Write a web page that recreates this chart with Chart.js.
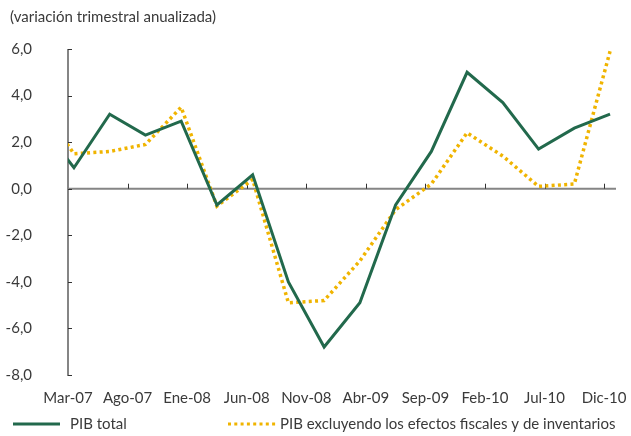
<!DOCTYPE html>
<html>
<head>
<meta charset="utf-8">
<script src="https://cdn.jsdelivr.net/npm/chart.js@4"></script>
<style>
  html, body { margin: 0; padding: 0; background: #fff; }
  #wrap { width: 631px; height: 436px; position: relative; }
</style>
</head>
<body>
<div id="wrap"><canvas id="chart" width="631" height="436"></canvas></div>
<script>
// quarterly data, Dic-06 is only the stub cut off at the left edge
const quarters = ['Dic-06', 'Mar-07', 'Jun-07', 'Sep-07', 'Dic-07', 'Mar-08', 'Jun-08', 'Sep-08', 'Dic-08',
    'Mar-09', 'Jun-09', 'Sep-09', 'Dic-09', 'Mar-10', 'Jun-10', 'Sep-10', 'Dic-10'];
const pibTotal = [2.9, 0.9, 3.2, 2.3, 2.9, -0.7, 0.6, -4.0, -6.8, -4.9, -0.7, 1.6, 5.0, 3.7, 1.7, 2.6, 3.2];
const pibExcluyendo = [3.7, 1.5, 1.6, 1.9, 3.5, -0.75, 0.4, -4.9, -4.8, -3.1, -0.9, 0.2, 2.4, 1.4, 0.1, 0.2, 5.9];
const xTickLabels = ['Mar-07', 'Ago-07', 'Ene-08', 'Jun-08', 'Nov-08', 'Abr-09', 'Sep-09', 'Feb-10', 'Jul-10', 'Dic-10'];
const yTicks = [6, 4, 2, 0, -2, -4, -6, -8];
const seriesNames = ['PIB total', 'PIB excluyendo los efectos fiscales y de inventarios'];
const subtitle = '(variación trimestral anualizada)';

const GREEN = '#22694c';
const GOLD = '#f0b400';
const AXIS = '#858585';
const TEXT = '#3a3a3a';
const FONT = 'Lato, "Open Sans", sans-serif';

// months counted from Mar-07, points sit in the middle of their month
const monthOf = i => 3 * (i - 1) + 0.5;
const tickMonths = xTickLabels.map((_, k) => 5 * k);
const toPoints = arr => arr.map((v, i) => ({ x: monthOf(i), y: v }));

const fmt = v => v.toFixed(1).replace('.', ',');

const axesPlugin = {
    id: 'axes',
    beforeDatasetsDraw(chart) {
        const { ctx, chartArea: a, scales: { x, y } } = chart;
        ctx.save();
        ctx.strokeStyle = AXIS;
        ctx.lineWidth = 2;
        ctx.beginPath();
        ctx.moveTo(a.left, y.getPixelForValue(6));
        ctx.lineTo(a.left, y.getPixelForValue(-8) + 1);
        const y0 = y.getPixelForValue(0);
        ctx.moveTo(a.left, y0);
        ctx.lineTo(a.right, y0);
        ctx.stroke();
        // small tick marks
        ctx.strokeStyle = '#333';
        ctx.lineWidth = 1;
        ctx.beginPath();
        yTicks.forEach(v => {
            const py = Math.round(y.getPixelForValue(v)) + 0.5;
            ctx.moveTo(a.left, py);
            ctx.lineTo(a.left + 4, py);
        });
        tickMonths.slice(1).forEach(m => {
            const px = Math.round(x.getPixelForValue(m)) + 0.5;
            ctx.moveTo(px, y0);
            ctx.lineTo(px, y0 - 5);
        });
        ctx.stroke();
        ctx.restore();
    },
    afterDraw(chart) {
        const { ctx } = chart;
        ctx.save();
        ctx.fillStyle = TEXT;
        ctx.font = '15px ' + FONT;
        ctx.textBaseline = 'middle';
        ctx.textAlign = 'left';
        ctx.fillText(subtitle, 10, 17);

        // legend
        const ly = 424;
        ctx.lineWidth = 3;
        ctx.strokeStyle = GREEN;
        ctx.beginPath();
        ctx.moveTo(13, ly);
        ctx.lineTo(60, ly);
        ctx.stroke();
        ctx.fillText(seriesNames[0], 70, ly);

        ctx.strokeStyle = GOLD;
        ctx.setLineDash([3, 3.3]);
        ctx.beginPath();
        ctx.moveTo(228, ly);
        ctx.lineTo(276, ly);
        ctx.stroke();
        ctx.setLineDash([]);
        ctx.fillText(seriesNames[1], 280, ly);
        ctx.restore();
    }
};

new Chart(document.getElementById('chart'), {
    type: 'line',
    data: {
        datasets: [{
            label: seriesNames[0],
            data: toPoints(pibTotal),
            borderColor: GREEN,
            borderWidth: 3,
            pointRadius: 0,
            tension: 0,
            clip: { left: 0, top: 5, right: 5, bottom: 5 }
        }, {
            label: seriesNames[1],
            data: toPoints(pibExcluyendo),
            borderColor: GOLD,
            borderWidth: 3.5,
            borderDash: [3, 3.3],
            borderCapStyle: 'butt',
            pointRadius: 0,
            tension: 0,
            clip: { left: 0, top: 5, right: 5, bottom: 5 }
        }]
    },
    options: {
        responsive: false,
        animation: false,
        events: [],
        layout: { padding: { left: 0, top: 49, right: 15, bottom: 21 } },
        plugins: {
            legend: { display: false },
            tooltip: { enabled: false }
        },
        scales: {
            x: {
                type: 'linear',
                min: 0,
                max: 46,
                grid: { display: false },
                border: { display: false },
                afterBuildTicks: s => { s.ticks = tickMonths.map(v => ({ value: v })); },
                afterFit: s => { s.height = 40; s.paddingLeft = 0; s.paddingRight = 0; },
                ticks: {
                    autoSkip: false,
                    maxRotation: 0,
                    padding: 6,
                    color: TEXT,
                    font: { family: FONT, size: 15 },
                    callback: v => xTickLabels[tickMonths.indexOf(v)]
                }
            },
            y: {
                min: -8,
                max: 6,
                grid: { display: false },
                border: { display: false },
                afterBuildTicks: s => { s.ticks = yTicks.map(v => ({ value: v })); },
                afterFit: s => { s.width = 68; },
                ticks: {
                    padding: 28,
                    color: TEXT,
                    font: { family: FONT, size: 15 },
                    callback: v => fmt(v)
                }
            }
        }
    },
    plugins: [axesPlugin]
});
</script>
</body>
</html>
